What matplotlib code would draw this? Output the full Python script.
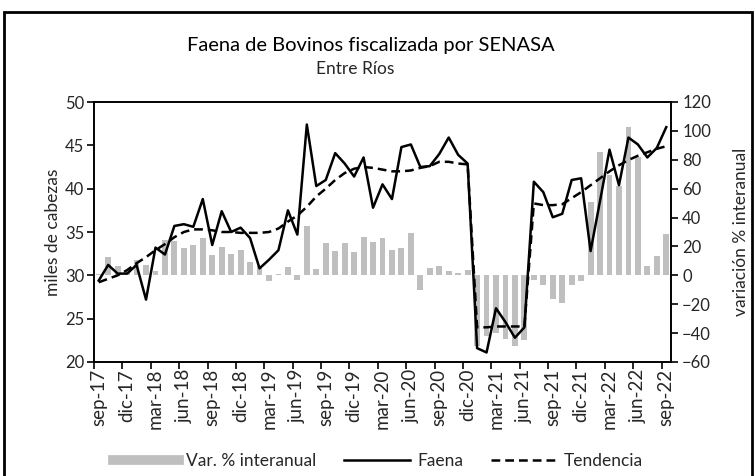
import matplotlib
matplotlib.use('Agg')
import matplotlib.pyplot as plt
from matplotlib.lines import Line2D
from matplotlib.patches import Rectangle
import numpy as np

plt.rcParams['font.family'] = ['Lato', 'DejaVu Sans']

# monthly data sep-17 .. sep-22
faena = [29.4, 31.2, 30.2, 30.2, 31.2, 27.2, 33.2, 32.4, 35.7, 35.9, 35.6, 38.8,
         33.5, 37.4, 35.0, 35.5, 34.3, 30.8, 31.8, 32.9, 37.5, 34.7, 47.4, 40.3,
         41.0, 44.1, 42.9, 41.4, 43.6, 37.8, 40.5, 38.8, 44.8, 45.1, 42.5, 42.6,
         44.0, 45.9, 43.9, 42.9, 21.6, 21.1, 26.2, 24.6, 22.8, 24.0, 40.8, 39.6,
         36.7, 37.1, 41.0, 41.2, 32.8, 38.6, 44.5, 40.4, 45.9, 45.1, 43.6, 44.7, 47.1]

tendencia = [29.2, 29.6, 30.0, 30.6, 31.4, 32.1, 32.9, 33.6, 34.4, 35.0, 35.3, 35.3,
             35.2, 35.0, 35.0, 34.9, 34.9, 34.9, 35.0, 35.4, 36.2, 36.9, 37.9, 39.1,
             40.0, 41.0, 41.8, 42.3, 42.5, 42.4, 42.2, 42.0, 42.0, 42.1, 42.4, 42.6,
             43.1, 43.1, 42.9, 42.8, 24.0, 24.0, 24.1, 24.1, 24.1, 24.1, 38.3, 38.1,
             38.1, 38.2, 38.9, 39.6, 40.4, 41.2, 42.0, 42.7, 43.3, 43.8, 44.2, 44.6, 44.9]

var_interanual = [1, 12.5, 6.5, 2, 10.5, 7.3, 2.8, 24.5, 24, 19, 21, 26,
                  14, 19.7, 15, 17.8, 9.3, 6.5, -4.2, 1, 5.6, -3.5, 34.3, 4.2,
                  22.5, 17, 22.5, 16.2, 26.6, 23, 26, 17.8, 19, 29.6, -10.2, 5.3,
                  6.2, 3, 1.5, 3.8, -49, -42, -40, -44, -49, -45, -3.5, -7,
                  -16.2, -19.2, -7, -4.2, 51, 85.6, 69.5, 62, 102.5, 82, 6.2, 13.4, 28.5]

tick_labels = ['sep-17', 'dic-17', 'mar-18', 'jun-18', 'sep-18', 'dic-18', 'mar-19',
               'jun-19', 'sep-19', 'dic-19', 'mar-20', 'jun-20', 'sep-20', 'dic-20',
               'mar-21', 'jun-21', 'sep-21', 'dic-21', 'mar-22', 'jun-22', 'sep-22']

x = np.arange(len(faena))
txt = '#262626'

fig = plt.figure(figsize=(7.56, 4.76), dpi=100)
ax = fig.add_axes([94/756, 1-362/476, (671-94)/756, (362-102)/476])

# bars (right axis) drawn first so the lines sit on top
ax.bar(x, var_interanual, width=0.62, color='#bfbfbf', zorder=1)
ax.set_ylim(-60, 120)
ax.set_yticks(range(-60, 121, 20))
ax.set_xlim(-0.5, len(faena) - 0.5)
ax.set_xticks(range(0, len(faena), 3))
ax.set_xticklabels(tick_labels, rotation=90, fontsize=13.5, color=txt)
ax.set_xticks(np.arange(-0.5, len(faena), 3), minor=True)
ax.tick_params(axis='x', which='major', length=0, pad=5)
ax.tick_params(axis='x', which='minor', length=5, width=1.2, direction='out')

ax2 = ax.twinx()
ax2.plot(x, faena, color='black', lw=1.8, zorder=3)
ax2.plot(x, tendencia, color='black', lw=1.8, ls=(0, (3.5, 2)), zorder=2)
ax2.set_ylim(20, 50)
ax2.set_yticks(range(20, 51, 5))
ax2.yaxis.tick_left()
ax2.yaxis.set_label_position('left')
ax2.set_ylabel('miles de cabezas', fontsize=12.5, color=txt, labelpad=3)
ax2.tick_params(axis='y', labelsize=12, labelcolor=txt, length=5, width=1.2, direction='out', pad=2)

# put the percentage axis on the right (after twinx)
ax.yaxis.tick_right()
ax.yaxis.set_label_position('right')
ax.set_ylabel('variación % interanual', fontsize=12.5, color=txt, labelpad=16)
ax.tick_params(axis='y', labelsize=12, labelcolor=txt, length=5, width=1.2, direction='out', pad=3)

for a in (ax, ax2):
    for s in a.spines.values():
        s.set_linewidth(1.2)
        s.set_color('black')

fig.text(0.49, 1-45/476, 'Faena de Bovinos fiscalizada por SENASA', ha='center', va='center',
         fontsize=14.5, color='black')
fig.text(0.47, 1-69/476, 'Entre Ríos', ha='center', va='center', fontsize=12.5, color=txt)

handles = [Line2D([], [], color='#bfbfbf', lw=7),
           Line2D([], [], color='black', lw=1.8),
           Line2D([], [], color='black', lw=1.8, ls=(0, (3.5, 2)))]
fig.legend(handles, ['Var. % interanual', 'Faena', 'Tendencia'], loc='center',
           bbox_to_anchor=(0.5, 1-461/476), ncol=3, frameon=False, fontsize=12.5,
           handlelength=3.8, columnspacing=1.6, handletextpad=0.4, labelcolor=txt)

fig.patches.append(Rectangle((4/756, -0.01), 748/756, 1-12/476+0.01, transform=fig.transFigure,
                             fill=False, lw=2, edgecolor='black'))

fig.savefig('out.png', dpi=100)
